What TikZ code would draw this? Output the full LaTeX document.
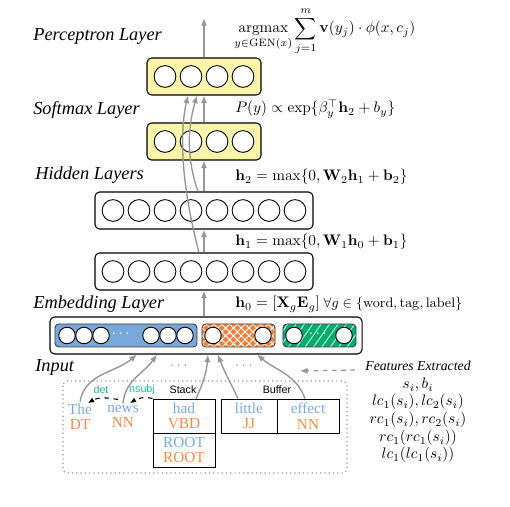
\documentclass[tikz,border=0pt]{standalone}
\usepackage{amsmath}
\usepackage[no-math]{fontspec}
\setmainfont{Liberation Serif}
\newfontfamily\arialfont{Liberation Sans}
\usetikzlibrary{arrows.meta,calc,patterns.meta}

\definecolor{wordblue}{RGB}{120,170,230}
\definecolor{tagorange}{RGB}{245,140,70}
\definecolor{depgreen}{RGB}{20,200,140}
\definecolor{embblue}{RGB}{122,167,217}
\definecolor{emborange}{RGB}{240,128,60}
\definecolor{embgreen}{RGB}{0,172,110}
\definecolor{softyellow}{RGB}{250,245,170}
\definecolor{arrowgray}{RGB}{150,150,150}

\tikzset{
  layerbox/.style={draw, rounded corners=3pt, line width=0.7pt, minimum height=0.851cm, inner sep=0},
  embpart/.style={draw=black!75, rounded corners=2.5pt, line width=0.6pt, minimum height=0.529cm, inner sep=0},
  neuron/.style={circle, draw, fill=white, line width=0.6pt, minimum size=0.5cm, inner sep=0},
  smallneuron/.style={circle, draw, fill=white, line width=0.6pt, minimum size=0.38cm, inner sep=0},
  feed/.style={draw=arrowgray, line width=0.9pt, -{Latex[length=5pt,width=4pt]}},
  dep/.style={dashed, line width=0.7pt, -{Latex[length=4pt,width=3.5pt]}},
  layername/.style={anchor=base west, inner sep=0, font=\large\itshape},
  eqn/.style={anchor=base west, inner sep=0},
  word/.style={align=center, inner sep=1pt, font=\fontsize{10}{10}\selectfont},
  cell/.style={draw, line width=0.6pt, minimum height=0.782cm, inner sep=0, align=center, font=\fontsize{10}{10}\selectfont},
  arclabel/.style={font=\arialfont\scriptsize, text=depgreen}
}

\begin{document}
\begin{tikzpicture}[x=0.023cm, y=0.023cm]
\useasboundingbox (0,0) rectangle (510,507);

% layer names
\node[layername] at (33,466) {Perceptron Layer};
\node[layername] at (33,392) {Softmax Layer};
\node[layername] at (35,327) {Hidden Layers};
\node[layername] at (33,198) {Embedding Layer};
\node[layername] at (35,135) {Input};

% equations
\node[eqn] at (234,474) {$\displaystyle \operatorname*{argmax}_{y\in\mathrm{GEN}(x)} \sum_{j=1}^{m} \mathbf{v}(y_j)\cdot\phi(x,c_j)$};
\node[eqn] at (235,394) {$P(y) \propto \exp\{\beta_y^{\top}\mathbf{h}_2 + b_y\}$};
\node[eqn] at (235,326) {$\mathbf{h}_2 = \max\{0, \mathbf{W}_2\mathbf{h}_1 + \mathbf{b}_2\}$};
\node[eqn] at (235,261) {$\mathbf{h}_1 = \max\{0, \mathbf{W}_1\mathbf{h}_0 + \mathbf{b}_1\}$};
\node[eqn] at (235,199) {$\mathbf{h}_0 = [\mathbf{X}_g\mathbf{E}_g]$\ {\small$\forall g \in \{\mathrm{word}, \mathrm{tag}, \mathrm{label}\}$}};

% layers
\node[layerbox, fill=softyellow, minimum width=2.622cm] (perc) at (204,430.5) {};
\node[layerbox, fill=softyellow, minimum width=2.622cm] (soft) at (204,365.5) {};
\node[layerbox, fill=white, minimum width=5.014cm] (hid2) at (204,296.5) {};
\node[layerbox, fill=white, minimum width=5.014cm] (hid1) at (204,235.5) {};
\node[layerbox, fill=white, minimum width=7.176cm] (emb) at (206,171.5) {};

\foreach \x in {165,191,217,243} {
  \node[neuron] at (\x,430.5) {};
  \node[neuron] at (\x,365.5) {};
}
\foreach \x in {113,139,165,191,217,243,269,295} {
  \node[neuron] at (\x,296.5) {};
  \node[neuron] at (\x,235.5) {};
}

% embedding parts
\node[embpart, fill=embblue, minimum width=3.266cm] (embw) at (126,171.5) {};
\node[embpart, preaction={fill=emborange},
  preaction={pattern={Lines[angle=45,distance=3.6pt,line width=0.6pt]}, pattern color=white},
  pattern={Lines[angle=-45,distance=3.6pt,line width=0.6pt]}, pattern color=white,
  minimum width=1.679cm] (embt) at (238.5,171.5) {};
\node[embpart, preaction={fill=embgreen},
  pattern={Lines[angle=55,distance=4.5pt,line width=0.45pt]}, pattern color=white,
  minimum width=1.679cm] (embl) at (319.5,171.5) {};
\foreach \x in {67,84,101,151,168,185,213,263,294,344}
  \node[smallneuron] at (\x,171.5) {};
\node[text=white] at (122,173) {$\cdots$};
\node[text=white] at (238,173) {$\cdots$};
\node[text=white] at (319,173) {$\cdots$};

% feed forward
\coordinate (out) at (204,489);
\draw[feed] (hid1.south |- emb.north) -- (hid1.south);
\draw[feed] (hid1.north) -- (hid2.south);
\draw[feed] (hid2.north) -- (soft.south);
\draw[feed] (soft.north) -- (perc.south);
\draw[feed] (perc.north) -- (out);
\draw[feed] ($(hid1.north)+(-5,0)$) .. controls (180,327) and (180,377) .. ($(perc.south)+(-16,0)$);
\draw[feed] ($(hid2.north)+(-6,0)$) .. controls (187,347) and (187,377) .. ($(perc.south)+(-7,0)$);

% input configuration
\draw[arrowgray, dotted, line width=0.8pt, rounded corners=3pt] (63,126) rectangle (347,34);
\node[word] (the) at (80,90.5) {\textcolor{wordblue}{The}\\\textcolor{tagorange}{DT}};
\node[word] (news) at (123,90.5) {\textcolor{wordblue}{news}\\\textcolor{tagorange}{NN}};
\node[cell, minimum width=1.426cm] (hadcell) at (184,91) {\textcolor{wordblue}{had}\\\textcolor{tagorange}{VBD}};
\node[cell, minimum width=1.426cm] (rootcell) at (184,57) {\textcolor{wordblue}{ROOT}\\\textcolor{tagorange}{ROOT}};
\node[cell, minimum width=1.288cm] (littlecell) at (249,91) {\textcolor{wordblue}{little}\\\textcolor{tagorange}{JJ}};
\node[cell, minimum width=1.426cm] (effectcell) at (308,91) {\textcolor{wordblue}{effect}\\\textcolor{tagorange}{NN}};
\node[font=\arialfont\scriptsize] at (183,117) {Stack};
\node[font=\arialfont\scriptsize] at (277,117) {Buffer};
\node[arclabel] at (101,117) {det};
\node[arclabel] at (142,117) {nsubj};
\draw[dep] ($(news.center)+(-5,17)$) to[out=170,in=30] ($(the.center)+(8,13.5)$);
\draw[dep] (hadcell.north west) to[out=165,in=30] ($(news.center)+(7,13.5)$);

% features into embedding
\draw[feed] (the.north) to[out=80,in=-140] ($(emb.south)+(-69,0)$);
\draw[feed] (news.north) to[out=85,in=-125] ($(emb.south)+(-49,0)$);
\draw[feed] ($(hadcell.north)+(12,0)$) to[out=65,in=-95] ($(emb.south)+(2,0)$);
\draw[feed] ($(littlecell.north)+(-11,0)$) to[out=115,in=-70] ($(emb.south)+(12,0)$);
\draw[feed] ($(effectcell.north)+(-3,0)$) to[out=110,in=-40] ($(emb.south)+(51,0)$);
\node[text=arrowgray] at (180,141) {$\cdots$};
\node[text=arrowgray] at (245,141) {$\cdots$};

% features extracted
\node[font=\small\itshape] (feat) at (418,141) {Features Extracted};
\coordinate (feattip) at (300,136);
\draw[arrowgray, dashed, line width=0.8pt, -{Latex[length=5pt,width=4pt]}] ($(feat.west)+(-5,-4)$) -- (feattip);
\node at (418,122) {$s_i, b_i$};
\node at (418,105) {$lc_1(s_i), lc_2(s_i)$};
\node at (418,87) {$rc_1(s_i), rc_2(s_i)$};
\node at (418,69) {$rc_1(rc_1(s_i))$};
\node at (418,52) {$lc_1(lc_1(s_i))$};
\end{tikzpicture}
\end{document}
